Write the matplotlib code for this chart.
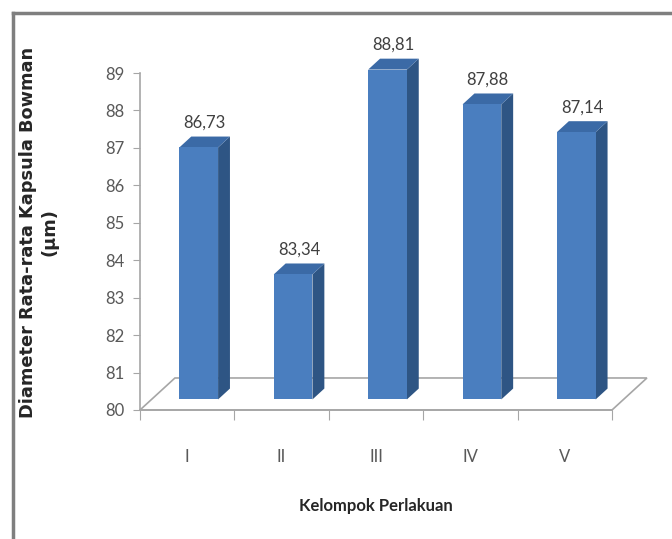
import matplotlib
matplotlib.use("Agg")
import matplotlib.pyplot as plt
from matplotlib.patches import Polygon
from matplotlib.lines import Line2D

# data: mean Bowman capsule diameter per treatment group
kelompok = ["I", "II", "III", "IV", "V"]
diameter = [86.73, 83.34, 88.81, 87.88, 87.14]

Y_MIN, Y_MAX = 80, 89
DX, DY = 0.37, 0.855          # full floor depth, in data units
D0, D1 = 0.33, 0.67           # bar depth range (fraction of floor depth)
BAR_W = 0.41

FRONT = "#4a7ebf"
SIDE = "#2e5584"
TOP = "#3b6aa6"
GRAY = "#a6a6a6"
TXT = "#595959"

narrow = ["Lato", "DejaVu Sans"]


def proj(u, v, d):
    return (u + d * DX, v + d * DY)


fig = plt.figure(figsize=(6.72, 5.39), dpi=100)
ax = fig.add_axes([140 / 672, 129 / 539, 472 / 672, 337 / 539])
ax.set_xlim(0, len(kelompok))
ax.set_ylim(Y_MIN, Y_MAX)

# floor
floor = Polygon([proj(0, Y_MIN, 0), proj(5, Y_MIN, 0), proj(5, Y_MIN, 1), proj(0, Y_MIN, 1)],
                closed=True, facecolor="white", edgecolor=GRAY, lw=1.2, clip_on=False, zorder=1)
ax.add_patch(floor)

for i, val in enumerate(diameter):
    l = i + 0.5 - BAR_W / 2
    r = i + 0.5 + BAR_W / 2
    front = [proj(l, Y_MIN, D0), proj(r, Y_MIN, D0), proj(r, val, D0), proj(l, val, D0)]
    side = [proj(r, Y_MIN, D0), proj(r, Y_MIN, D1), proj(r, val, D1), proj(r, val, D0)]
    top = [proj(l, val, D0), proj(r, val, D0), proj(r, val, D1), proj(l, val, D1)]
    ax.add_patch(Polygon(side, closed=True, facecolor=SIDE, edgecolor="none", clip_on=False, zorder=3))
    ax.add_patch(Polygon(top, closed=True, facecolor=TOP, edgecolor="none", clip_on=False, zorder=3))
    ax.add_patch(Polygon(front, closed=True, facecolor=FRONT, edgecolor="none", clip_on=False, zorder=4))
    lx, ly = proj(i + 0.5, val, D1)
    ax.annotate(f"{val:.2f}".replace(".", ","), xy=(lx - 0.5 * (D1 - D0) * DX, ly),
                xytext=(0, 4), textcoords="offset points", ha="center", va="bottom",
                fontsize=12, color="#404040", family=narrow, annotation_clip=False, zorder=5)

for s in ["top", "right"]:
    ax.spines[s].set_visible(False)
for s in ["left", "bottom"]:
    ax.spines[s].set_color(GRAY)
    ax.spines[s].set_linewidth(1.2)
ax.set_facecolor("none")

ax.set_yticks(range(Y_MIN, Y_MAX + 1))
ax.tick_params(axis="y", direction="out", length=5, color=GRAY, labelcolor=TXT, labelsize=12, pad=6)
for t in ax.get_yticklabels():
    t.set_family(narrow)

ax.set_xticks(range(len(kelompok) + 1))
ax.set_xticklabels([])
ax.tick_params(axis="x", which="major", direction="out", length=7, color=GRAY)
ax.set_xticks([i + 0.5 for i in range(len(kelompok))], minor=True)
ax.set_xticklabels(kelompok, minor=True)
ax.tick_params(axis="x", which="minor", length=0, pad=28, labelcolor=TXT, labelsize=12)
for t in ax.get_xticklabels(minor=True):
    t.set_family(narrow)

ax.set_xlabel("Kelompok Perlakuan", fontsize=12, fontweight="bold", color="#262626",
              family=narrow, labelpad=24)
ax.set_ylabel("Diameter Rata-rata Kapsula Bowman\n(µm)", fontsize=12.8, fontweight="bold",
              color="#262626", multialignment="center", linespacing=1.3)
ax.yaxis.set_label_coords(-0.172, 0.528)

# chart frame
fig.add_artist(Line2D([13 / 672, 13 / 672], [0, 1 - 13 / 539], color="#7f7f7f", lw=2.5,
                      transform=fig.transFigure))
fig.add_artist(Line2D([13 / 672, 1], [1 - 13 / 539, 1 - 13 / 539], color="#7f7f7f", lw=2.5,
                      transform=fig.transFigure))

fig.savefig("out.png", dpi=100)
